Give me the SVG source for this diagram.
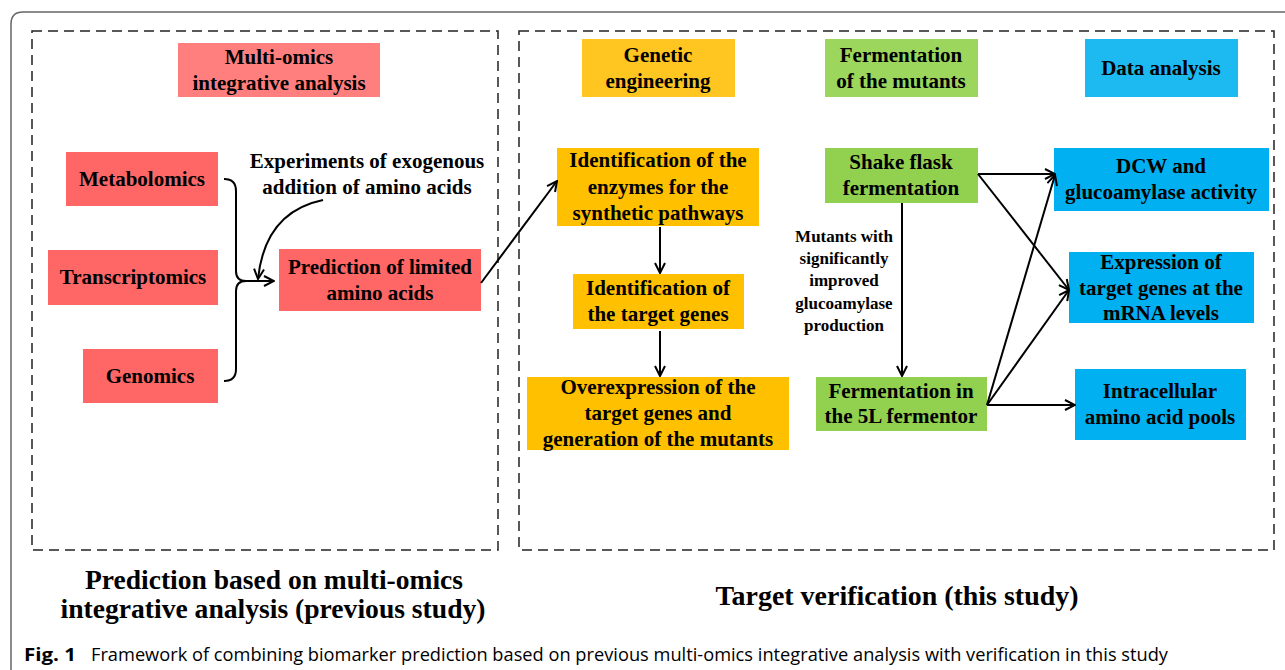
<svg xmlns="http://www.w3.org/2000/svg" width="1285" height="670" viewBox="0 0 1285 670">
<defs>
<style>
.t{font-family:"Liberation Serif","Times New Roman",serif;font-weight:bold;font-size:21px;fill:#000;text-anchor:middle}
.s{font-family:"Liberation Serif","Times New Roman",serif;font-weight:bold;font-size:17px;fill:#000;text-anchor:middle}
.b{font-family:"Liberation Serif","Times New Roman",serif;font-weight:bold;font-size:27px;fill:#000;text-anchor:middle}
.dash{fill:none;stroke:#222;stroke-width:1.5;stroke-dasharray:10 6}
.red{fill:#FF6666}.redh{fill:#FF7F7F}
.org{fill:#FFC000}.orgh{fill:#FFC520}
.grn{fill:#92D050}.grnh{fill:#9CD65C}
.blu{fill:#00B0F0}.bluh{fill:#1CBAF0}
.c{fill:none;stroke:#000;stroke-width:2}
</style>
<marker id="ah" viewBox="0 0 12 12" refX="11" refY="6" markerWidth="12" markerHeight="12" markerUnits="userSpaceOnUse" orient="auto">
<path d="M1,1 L11,6 L1,11" fill="none" stroke="#000" stroke-width="2"/>
</marker>
</defs>
<rect width="1285" height="670" fill="#fff"/>
<path d="M11 670 V24 Q11 12 23 12 H1285" fill="none" stroke="#666" stroke-width="1.5"/>
<g id="frames">
<rect class="dash" x="32" y="31" width="466" height="519"/>
<rect class="dash" x="519" y="31" width="755" height="519"/>
</g>
<g id="n-multiomics"><rect class="redh" x="178" y="43" width="202" height="54"/><text class="t" x="279" y="64">Multi-omics</text><text class="t" x="279" y="90">integrative analysis</text></g>
<g id="n-metabolomics"><rect class="red" x="66" y="152" width="152" height="54"/><text class="t" x="142" y="186">Metabolomics</text></g>
<g id="n-transcriptomics"><rect class="red" x="48" y="250" width="170" height="55"/><text class="t" x="133" y="284">Transcriptomics</text></g>
<g id="n-genomics"><rect class="red" x="83" y="349" width="135" height="54"/><text class="t" x="150" y="383">Genomics</text></g>
<g id="n-prediction"><rect class="red" x="279" y="249" width="202" height="62"/><text class="t" x="380" y="274">Prediction of limited</text><text class="t" x="380" y="300">amino acids</text></g>
<g id="n-experiments"><text class="t" x="367" y="168">Experiments of exogenous</text><text class="t" x="367" y="194">addition of amino acids</text></g>
<g id="n-genetic"><rect class="orgh" x="582" y="39" width="153" height="58"/><text class="t" x="658" y="62">Genetic</text><text class="t" x="658" y="88">engineering</text></g>
<g id="n-enzymes"><rect class="org" x="557" y="148" width="202" height="78"/><text class="t" x="658" y="167">Identification of the</text><text class="t" x="658" y="194">enzymes for the</text><text class="t" x="658" y="220">synthetic pathways</text></g>
<g id="n-targetgenes"><rect class="org" x="573" y="274" width="171" height="55"/><text class="t" x="658" y="295">Identification of</text><text class="t" x="658" y="321">the target genes</text></g>
<g id="n-overexpression"><rect class="org" x="527" y="377" width="262" height="73"/><text class="t" x="658" y="394">Overexpression of the</text><text class="t" x="658" y="420">target genes and</text><text class="t" x="658" y="446">generation of the mutants</text></g>
<g id="n-fermhead"><rect class="grnh" x="825" y="39" width="153" height="58"/><text class="t" x="901" y="62">Fermentation</text><text class="t" x="901" y="88">of the mutants</text></g>
<g id="n-datahead"><rect class="bluh" x="1085" y="39" width="153" height="58"/><text class="t" x="1161" y="75">Data analysis</text></g>
<g id="n-shake"><rect class="grn" x="825" y="148" width="153" height="55"/><text class="t" x="901" y="169">Shake flask</text><text class="t" x="901" y="195">fermentation</text></g>
<g id="n-dcw"><rect class="blu" x="1054" y="148" width="215" height="63"/><text class="t" x="1161" y="173">DCW and</text><text class="t" x="1161" y="199">glucoamylase activity</text></g>
<g id="n-expression"><rect class="blu" x="1069" y="252" width="185" height="71"/><text class="t" x="1161" y="269">Expression of</text><text class="t" x="1161" y="295">target genes at the</text><text class="t" x="1161" y="320">mRNA levels</text></g>
<g id="n-intracellular"><rect class="blu" x="1075" y="369" width="171" height="71"/><text class="t" x="1160" y="398">Intracellular</text><text class="t" x="1160" y="424">amino acid pools</text></g>
<g id="n-fermentor"><rect class="grn" x="816" y="377" width="171" height="54"/><text class="t" x="901" y="398">Fermentation in</text><text class="t" x="901" y="423">the 5L fermentor</text></g>
<g id="n-mutants-label"><text class="s" x="844" y="242">Mutants with</text><text class="s" x="844" y="264">significantly</text><text class="s" x="844" y="286">improved</text><text class="s" x="844" y="309">glucoamylase</text><text class="s" x="844" y="331">production</text></g>
<g id="connectors">
<path class="c" d="M224 179 Q236 179 236 191 V271 Q236 281 246 281 H274" marker-end="url(#ah)"/>
<path class="c" d="M224 381 Q236 381 236 369 V291 Q236 281 246 281"/>
<path class="c" d="M323 200 Q265 212 258 279" marker-end="url(#ah)"/>
<path class="c" d="M481 283 L557 181" marker-end="url(#ah)"/>
<path class="c" d="M660 227 V273" marker-end="url(#ah)"/>
<path class="c" d="M660 331 V376" marker-end="url(#ah)"/>
<path class="c" d="M902 203 V376" marker-end="url(#ah)"/>
<path class="c" d="M978 174 H1055" marker-end="url(#ah)"/>
<path class="c" d="M978 174 L1069 290" marker-end="url(#ah)"/>
<path class="c" d="M987 405 L1055 175" marker-end="url(#ah)"/>
<path class="c" d="M987 405 L1069 290" marker-end="url(#ah)"/>
<path class="c" d="M987 405 H1075" marker-end="url(#ah)"/>
</g>
<g id="titles">
<text class="b" x="274" y="589" textLength="378" lengthAdjust="spacingAndGlyphs">Prediction based on multi-omics</text>
<text class="b" x="273" y="618" textLength="425" lengthAdjust="spacingAndGlyphs">integrative analysis (previous study)</text>
<text class="b" x="897" y="605" textLength="363" lengthAdjust="spacingAndGlyphs">Target verification (this study)</text>
</g>
<g id="caption">
<text x="24" y="661" font-family="'Open Sans','Liberation Sans',sans-serif" font-weight="bold" font-size="18" textLength="52" lengthAdjust="spacingAndGlyphs">Fig. 1</text>
<text x="91" y="661" font-family="'Open Sans','Liberation Sans',sans-serif" font-size="18" textLength="1077" lengthAdjust="spacingAndGlyphs">Framework of combining biomarker prediction based on previous multi-omics integrative analysis with verification in this study</text>
</g>
</svg>
